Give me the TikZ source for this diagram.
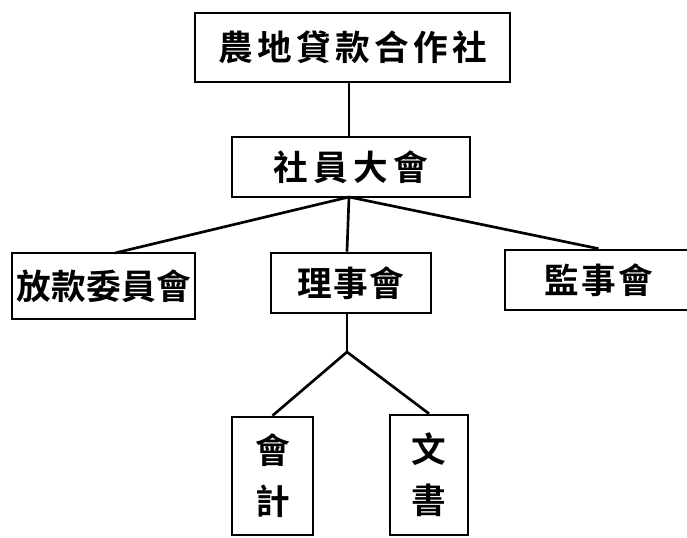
\documentclass[tikz,border=0pt]{standalone}
\usepackage{fontspec}
\newfontfamily\cjk{Noto Sans CJK TC}[BoldFont={Noto Sans CJK TC Bold}]
\begin{document}
\begin{tikzpicture}[x=0.75pt,y=-0.75pt,
  bx/.style 2 args={draw, line width=2pt, minimum width=#1*0.75pt, minimum height=#2*0.75pt, inner sep=0pt, font=\cjk\bfseries\fontsize{26}{38}\selectfont, align=center},
  ln/.style={line width=2pt}]
\useasboundingbox (0,0) rectangle (687,538);
\node[bx={315}{69}] (top) at (352.5,47.5) {農\hspace{3.25pt}地\hspace{3.25pt}貸\hspace{3.25pt}款\hspace{3.25pt}合\hspace{3.25pt}作\hspace{3.25pt}社};
\node[bx={238}{60}] (mem) at (351,167) {社\hspace{4pt}員\hspace{4pt}大\hspace{4pt}會};
\node[bx={183}{66}] (loan) at (103.5,286) {放\hspace{0.25pt}款\hspace{0.25pt}委\hspace{0.25pt}員\hspace{0.25pt}會};
\node[bx={160}{60}] (li) at (351,283) {理\hspace{1pt}事\hspace{1pt}會};
\node[bx={187}{60}] (jian) at (598.5,280) {監\hspace{1.75pt}事\hspace{1.75pt}會};
\node[bx={81}{118}] (kj) at (272.5,476) {會\\計};
\node[bx={78}{120}] (ws) at (429,475) {文\\書};
\coordinate (j1) at (349,197);
\coordinate (la) at (115,253);
\coordinate (j2) at (347,352);
\draw[ln] (top.south -| j1) -- (mem.north -| j1);
\draw[ln] (j1) -- (la);
\draw[ln] (j1) -- (li.north -| 347,0);
\draw[ln] (j1) -- (jian.north);
\draw[ln] (li.south -| j2) -- (j2);
\draw[ln] (j2) -- (kj.north);
\draw[ln] (j2) -- (ws.north);
\end{tikzpicture}
\end{document}
